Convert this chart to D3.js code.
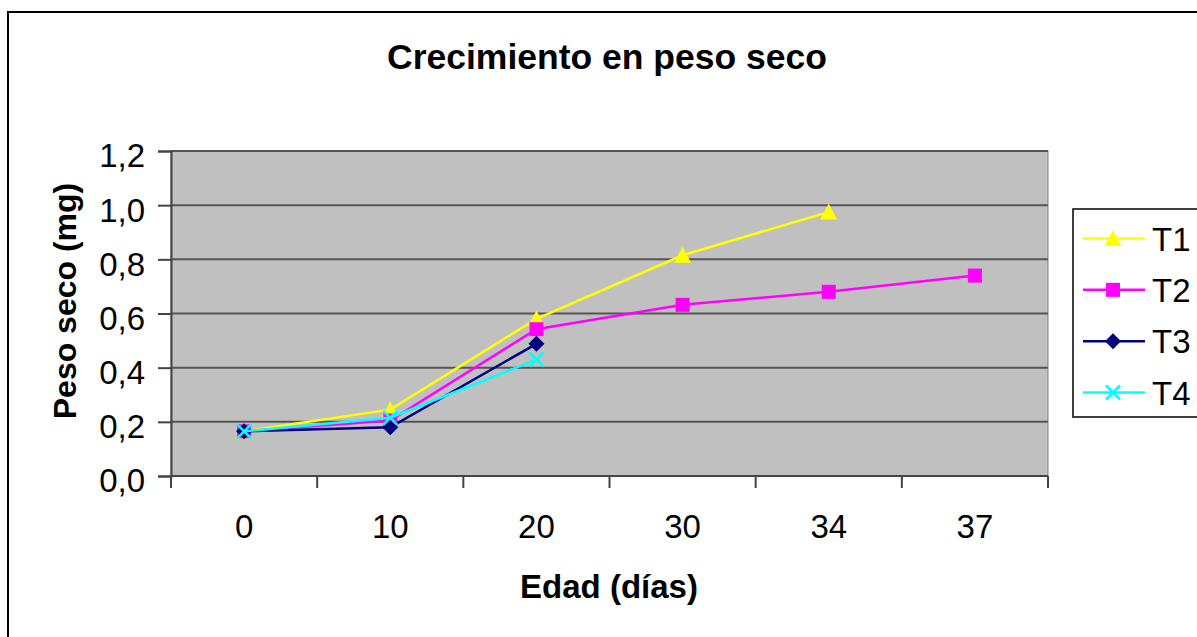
<!DOCTYPE html>
<html>
<head>
<meta charset="utf-8">
<script src="https://cdn.jsdelivr.net/npm/d3@7"></script>
<style>
  body { margin: 0; background: #fff; }
  text { font-family: "Liberation Sans", Arial, sans-serif; fill: #000; }
</style>
</head>
<body>
<svg id="chart" width="1197" height="637"></svg>
<script>
// Data
const categories = ["0", "10", "20", "30", "34", "37"];
const t1 = [0.165, 0.245, 0.58, 0.815, 0.975, null];
const t2 = [0.165, 0.205, 0.542, 0.632, 0.68, 0.74];
const t3 = [0.165, 0.18, 0.488, null, null, null];
const t4 = [0.165, 0.215, 0.43, null, null, null];
const seriesNames = ["T1", "T2", "T3", "T4"];
const yTicks = [0, 0.2, 0.4, 0.6, 0.8, 1.0, 1.2];

const series = [
  { name: seriesNames[0], values: t1, color: "#FFFF00", marker: "triangle" },
  { name: seriesNames[1], values: t2, color: "#FF00FF", marker: "square" },
  { name: seriesNames[2], values: t3, color: "#000080", marker: "diamond" },
  { name: seriesNames[3], values: t4, color: "#00FFFF", marker: "x" }
];

const svg = d3.select("#chart");

// Outer chart border (cropped at right/bottom)
svg.append("rect")
  .attr("x", 8).attr("y", 12)
  .attr("width", 1200).attr("height", 640)
  .attr("fill", "#fff")
  .attr("stroke", "#000")
  .attr("stroke-width", 2);

// Plot area
const plot = { left: 171, right: 1048, top: 151, bottom: 476 };

const x = d3.scaleBand()
  .domain(categories)
  .range([plot.left, plot.right])
  .paddingInner(0)
  .paddingOuter(0);

const y = d3.scaleLinear()
  .domain([0, 1.2])
  .range([plot.bottom, plot.top]);

svg.append("rect")
  .attr("x", plot.left).attr("y", plot.top)
  .attr("width", plot.right - plot.left)
  .attr("height", plot.bottom - plot.top)
  .attr("fill", "#C0C0C0")
  .attr("stroke", "#808080")
  .attr("stroke-width", 1);

// Horizontal gridlines
svg.append("g")
  .selectAll("line")
  .data(yTicks.filter(d => d > 0))
  .enter()
  .append("line")
  .attr("x1", plot.left).attr("x2", plot.right)
  .attr("y1", d => y(d)).attr("y2", d => y(d))
  .attr("stroke", "#555")
  .attr("stroke-width", 2);

// Y axis
const fmt = d => d3.format(".1f")(d).replace(".", ",");
const yAxis = svg.append("g")
  .attr("transform", `translate(${plot.left},0)`)
  .call(d3.axisLeft(y).tickValues(yTicks).tickSize(13).tickPadding(13).tickFormat(fmt));
yAxis.select(".domain").attr("stroke", "#444").attr("stroke-width", 2);
yAxis.selectAll(".tick line").attr("stroke", "#444").attr("stroke-width", 2);
yAxis.selectAll(".tick text")
  .style("font-family", "'Liberation Sans', Arial, sans-serif")
  .style("font-size", "33px")
  .attr("fill", "#000")
  .attr("dy", "0.48em");

// X axis: ticks at category boundaries, labels centered
const xAxisG = svg.append("g");
xAxisG.append("line")
  .attr("x1", plot.left - 1).attr("x2", plot.right)
  .attr("y1", plot.bottom).attr("y2", plot.bottom)
  .attr("stroke", "#444").attr("stroke-width", 2);
const boundaries = categories.map(c => x(c)).concat([x(categories[categories.length - 1]) + x.bandwidth()]);
xAxisG.selectAll(".xtick")
  .data(boundaries)
  .enter()
  .append("line")
  .attr("class", "xtick")
  .attr("x1", d => d).attr("x2", d => d)
  .attr("y1", plot.bottom).attr("y2", plot.bottom + 12)
  .attr("stroke", "#444").attr("stroke-width", 2);
xAxisG.selectAll(".xlabel")
  .data(categories)
  .enter()
  .append("text")
  .attr("class", "xlabel")
  .attr("x", d => x(d) + x.bandwidth() / 2)
  .attr("y", 538)
  .attr("text-anchor", "middle")
  .style("font-size", "33px")
  .text(d => d);

// Titles
svg.append("text")
  .attr("x", 607).attr("y", 69)
  .attr("text-anchor", "middle")
  .style("font-size", "35.5px")
  .style("font-weight", "bold")
  .text("Crecimiento en peso seco");

svg.append("text")
  .attr("x", 609).attr("y", 598)
  .attr("text-anchor", "middle")
  .style("font-size", "33px")
  .style("font-weight", "bold")
  .text("Edad (días)");

svg.append("text")
  .attr("transform", "translate(76,301) rotate(-90)")
  .attr("text-anchor", "middle")
  .style("font-size", "32px")
  .style("font-weight", "bold")
  .text("Peso seco (mg)");

// Marker drawing
function drawMarker(g, type, color) {
  if (type === "triangle") {
    g.append("path").attr("d", "M0,-8.5L8.5,7.5L-8.5,7.5Z").attr("fill", color);
  } else if (type === "square") {
    g.append("rect").attr("x", -7).attr("y", -7).attr("width", 14).attr("height", 14).attr("fill", color);
  } else if (type === "diamond") {
    g.append("path").attr("d", "M0,-8L8,0L0,8L-8,0Z").attr("fill", color);
  } else if (type === "x") {
    g.append("path").attr("d", "M-7,-7L7,7M-7,7L7,-7")
      .attr("stroke", color).attr("stroke-width", 2.5).attr("fill", "none");
  }
}

// Series lines and markers
const line = d3.line()
  .defined(d => d.v !== null)
  .x(d => x(d.c) + x.bandwidth() / 2)
  .y(d => y(d.v));

series.forEach(s => {
  const pts = categories.map((c, i) => ({ c: c, v: s.values[i] }));
  const g = svg.append("g");
  g.append("path")
    .datum(pts)
    .attr("d", line)
    .attr("fill", "none")
    .attr("stroke", s.color)
    .attr("stroke-width", 2.5);
  pts.filter(d => d.v !== null).forEach(d => {
    const m = g.append("g")
      .attr("transform", `translate(${x(d.c) + x.bandwidth() / 2},${y(d.v)})`);
    drawMarker(m, s.marker, s.color);
  });
});

// Legend
const legend = svg.append("g");
legend.append("rect")
  .attr("x", 1073).attr("y", 209)
  .attr("width", 140).attr("height", 208)
  .attr("fill", "#fff")
  .attr("stroke", "#000")
  .attr("stroke-width", 1.5);

const legendY = d3.scalePoint()
  .domain(seriesNames)
  .range([238.5, 392.5]);

series.forEach(s => {
  const ly = legendY(s.name);
  legend.append("line")
    .attr("x1", 1083).attr("x2", 1145)
    .attr("y1", ly).attr("y2", ly)
    .attr("stroke", s.color).attr("stroke-width", 2.5);
  const m = legend.append("g").attr("transform", `translate(1113,${ly})`);
  drawMarker(m, s.marker, s.color);
  legend.append("text")
    .attr("x", 1152).attr("y", ly + 12)
    .style("font-size", "33px")
    .text(s.name);
});
</script>
</body>
</html>
